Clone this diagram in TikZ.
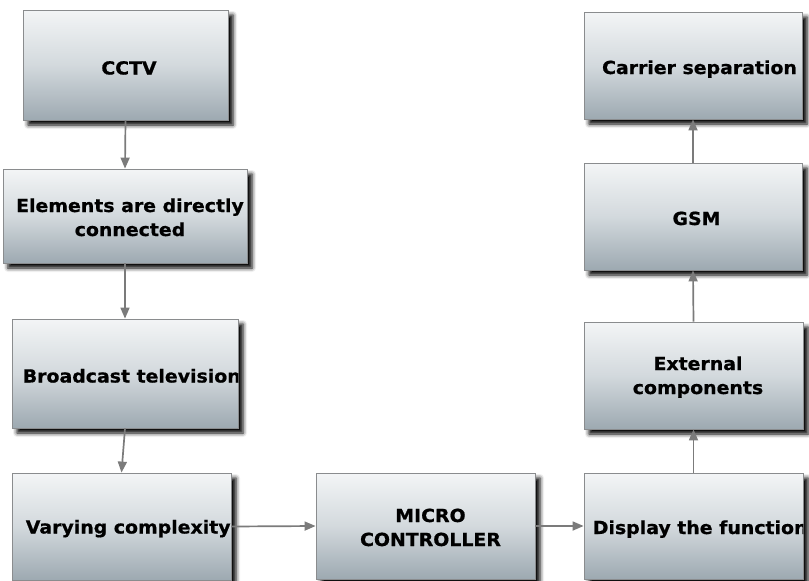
\documentclass[tikz,border=0pt]{standalone}
\usepackage{fontspec}
\setmainfont[FakeStretch=1.05, BoldFeatures={FakeBold=0.8}]{DejaVu Sans}
\usetikzlibrary{arrows.meta,shadows.blur}

\definecolor{boxtop}{HTML}{F3F5F6}
\definecolor{boxmid}{HTML}{D3D9DD}
\definecolor{boxbot}{HTML}{9DA9B1}
\definecolor{boxline}{HTML}{8A8C8E}
\definecolor{wire}{HTML}{7B7B7B}

\tikzset{
  box/.style={draw=boxline, line width=0.8pt, inner sep=0pt,
    top color=boxtop, bottom color=boxbot, middle color=boxmid,
    blur shadow={shadow xshift=5pt, shadow yshift=-5pt,
      shadow blur radius=4pt, shadow opacity=100}},
  caption/.style={font=\bfseries\fontsize{18}{24}\selectfont, align=center,
    inner sep=0pt, text height=13pt, text depth=0pt},
  twoline/.style={text height=37pt, text depth=0pt},
  conn/.style={draw=wire, line width=1.7pt,
    -{Triangle[length=11pt,width=9pt,fill=wire]}},
}

\begin{document}
\begin{tikzpicture}[x=1pt, y=-1pt]
\useasboundingbox (0,0) rectangle (809,581);

% boxes: left column
\node[box, minimum width=205pt, minimum height=110pt] (cctv)  at (125.5,65) {};
\node[box, minimum width=244pt, minimum height=94pt]  (elem)  at (125,216) {};
\node[box, minimum width=226pt, minimum height=109pt] (bcast) at (125,373.5) {};
\node[box, minimum width=219pt, minimum height=107pt] (vary)  at (121.5,526.5) {};
% middle
\node[box, minimum width=219pt, minimum height=106pt] (micro) at (425.5,526) {};
% right column
\node[box, minimum width=219pt, minimum height=106pt] (disp)  at (693.5,526) {};
\node[box, minimum width=219pt, minimum height=107pt] (ext)   at (693.5,375.5) {};
\node[box, minimum width=218pt, minimum height=107pt] (gsm)   at (693,216.5) {};
\node[box, minimum width=218pt, minimum height=107pt] (carr)  at (693,65.5) {};

% labels, each clipped to its own box
\begin{scope}
  \clip (cctv.south west) rectangle (cctv.north east);
  \node[caption] (cctvtext) at ([shift={(3.5,3)}]cctv.center) {CCTV};
\end{scope}
\begin{scope}
  \clip (elem.south west) rectangle (elem.north east);
  \node[caption, twoline] (elemtext) at ([shift={(5,1.5)}]elem.center)
    {Elements are directly\\connected};
\end{scope}
\begin{scope}
  \clip (bcast.south west) rectangle (bcast.north east);
  \node[caption, anchor=west] (bcasttext) at ([shift={(11,2.5)}]bcast.west)
    {Broadcast television};
\end{scope}
\begin{scope}
  \clip (vary.south west) rectangle (vary.north east);
  \node[caption, anchor=west] (varytext) at ([shift={(14,0.5)}]vary.west)
    {Varying complexity};
\end{scope}
\begin{scope}
  \clip (micro.south west) rectangle (micro.north east);
  \node[caption, twoline] (microtext) at ([shift={(5,1.5)}]micro.center)
    {MICRO\\CONTROLLER};
\end{scope}
\begin{scope}
  \clip (disp.south west) rectangle (disp.north east);
  \node[caption, anchor=west] (disptext) at ([shift={(9,1.5)}]disp.west)
    {Display the function};
\end{scope}
\begin{scope}
  \clip (ext.south west) rectangle (ext.north east);
  \node[caption, twoline] (exttext) at ([shift={(4.5,0)}]ext.center)
    {External\\components};
\end{scope}
\begin{scope}
  \clip (gsm.south west) rectangle (gsm.north east);
  \node[caption] (gsmtext) at ([shift={(3.5,2)}]gsm.center) {GSM};
\end{scope}
\begin{scope}
  \clip (carr.south west) rectangle (carr.north east);
  \node[caption] (carrtext) at ([shift={(6.5,2)}]carr.center) {Carrier separation};
\end{scope}

% connectors
\draw[conn] (cctv.south) -- (elem.north);
\draw[conn] (elem.south) -- (bcast.north);
\draw[conn] (bcast.south) -- (vary.north);
\draw[conn] (vary.east) -- (micro.west);
\draw[conn] (micro.east) -- (disp.west);
\draw[conn] (disp.north) -- (ext.south);
\draw[conn] (ext.north) -- (gsm.south);
\draw[conn] (gsm.north) -- (carr.south);
\end{tikzpicture}
\end{document}
